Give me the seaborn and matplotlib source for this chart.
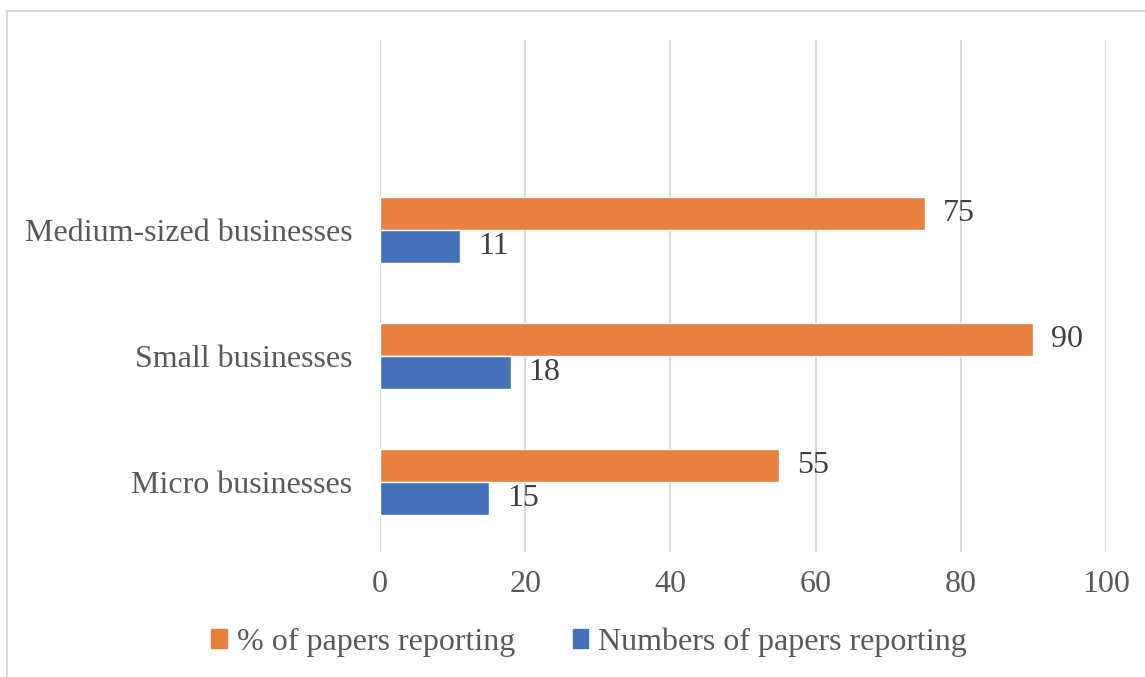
import matplotlib
matplotlib.use("Agg")
import matplotlib.pyplot as plt
import seaborn as sns
import pandas as pd
from matplotlib.patches import Rectangle

categories = ["Medium-sized businesses", "Small businesses", "Micro businesses"]
series_names = ["% of papers reporting", "Numbers of papers reporting"]
pct_values = [75, 90, 55]
num_values = [11, 18, 15]
x_ticks = [0, 20, 40, 60, 80, 100]
colors = ["#E8803F", "#4571B9"]

rows = []
for c, p, n in zip(categories, pct_values, num_values):
    rows.append({"category": c, "series": series_names[0], "value": p})
    rows.append({"category": c, "series": series_names[1], "value": n})
df = pd.DataFrame(rows)

sns.set_theme(style="white")
plt.rcParams['font.family'] = ['Liberation Serif', 'DejaVu Serif']
text_color = "#595959"

fig = plt.figure(figsize=(11.45, 6.77), dpi=100)
ax = fig.add_axes([380/1145, 1-552/677, (1106-380)/1145, (552-40)/677])

sns.barplot(data=df, x="value", y="category", hue="series", hue_order=series_names,
            order=categories, palette=colors, orient="h", width=0.52, ax=ax,
            saturation=1, legend=True, zorder=3)

ax.set_xlim(0, 100)
ax.set_ylim(2.555, -1.51)
ax.set_xticks(x_ticks)
ax.set_xticklabels([str(t) for t in x_ticks])
ax.set_xlabel("")
ax.set_ylabel("")
for s in ax.spines.values():
    s.set_visible(False)
ax.grid(axis="x", color="#D9D9D9", linewidth=1.5, zorder=0)
ax.set_axisbelow(True)
ax.tick_params(axis="x", length=0, pad=13, labelsize=23, labelcolor=text_color)
ax.tick_params(axis="y", length=0, pad=20, labelsize=23, labelcolor=text_color)

for cont in ax.containers:
    ax.bar_label(cont, fmt="%d", padding=13, fontsize=23, color="#404040")

ax.legend_.remove()
handles = [Rectangle((0, 0), 1, 1, color=c) for c in colors]
fig.legend(handles, series_names, loc="center", bbox_to_anchor=(589/1145, 1-642/677),
           ncol=2, frameon=False, fontsize=23, labelcolor=text_color,
           handlelength=0.5, handleheight=0.5, handletextpad=0.3, columnspacing=1.8)

fig.patches.append(Rectangle((7/1145, -0.1), 1.2, 1-11/677+0.1, transform=fig.transFigure,
                             fill=False, edgecolor="#D9D9D9", linewidth=1.5))

fig.savefig("out.png", dpi=100)
